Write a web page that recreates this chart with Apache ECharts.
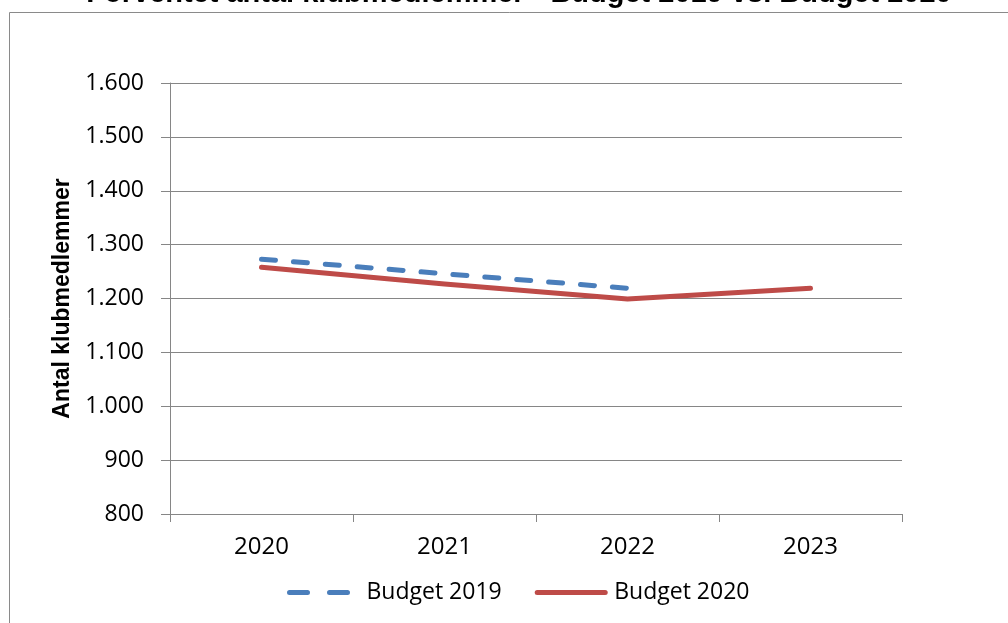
<!DOCTYPE html>
<html><head><meta charset="utf-8">
<script src="https://cdn.jsdelivr.net/npm/echarts@6/dist/echarts.min.js"></script>
<style>html,body{margin:0;padding:0;background:#fff}#c{width:1008px;height:623px}</style>
</head><body><div id="c"></div>
<script>
const categories = ['2020', '2021', '2022', '2023'];
const budget2019 = [1273, 1246, 1219, null];
const budget2020 = [1258, 1227, 1199, 1219];
const yTicks = { min: 800, max: 1600, interval: 100 };

const chart = echarts.init(document.getElementById('c'));
const fmt = v => v >= 1000 ? Math.floor(v / 1000) + '.' + String(v % 1000).padStart(3, '0') : String(v);
chart.setOption({
  animation: false,
  backgroundColor: '#fff',
  title: {
    text: 'Forventet antal klubmedlemmer - Budget 2019 vs. Budget 2020',
    left: 514, textAlign: 'center', top: -26,
    textStyle: { fontFamily: 'Liberation Sans', fontWeight: 'bold', fontSize: 29, color: '#000' }
  },
  graphic: [{
    type: 'rect', shape: { x: 9.5, y: 12.5, width: 1010, height: 620 },
    style: { fill: 'none', stroke: '#8a8a8a', lineWidth: 1 }, silent: true
  }],
  grid: { left: 170, right: 106, top: 83, bottom: 109 },
  legend: {
    bottom: 14, left: 282, itemWidth: 68, itemHeight: 12, itemGap: 33,
    textStyle: { fontFamily: 'Open Sans', fontSize: 23, color: '#000', padding: [0, 0, 0, 4] },
    data: [
      { name: 'Budget 2019', itemStyle: { opacity: 0 }, lineStyle: { width: 5, color: '#4A7EBB', type: [18, 22], cap: 'round' } },
      { name: 'Budget 2020', itemStyle: { opacity: 0 }, lineStyle: { width: 5, color: '#BE4B48', cap: 'round' } }
    ]
  },
  xAxis: {
    type: 'category', data: categories, boundaryGap: true,
    axisLine: { lineStyle: { color: '#868686', width: 1 } },
    axisTick: { show: true, length: 8, lineStyle: { color: '#868686' } },
    axisLabel: { fontFamily: 'Open Sans', fontSize: 24, color: '#000', margin: 21 }
  },
  yAxis: {
    type: 'value', min: yTicks.min, max: yTicks.max, interval: yTicks.interval,
    name: 'Antal klubmedlemmer', nameLocation: 'middle', nameGap: 96, nameRotate: 90,
    nameTextStyle: { fontFamily: 'Liberation Sans', fontWeight: 'bold', fontSize: 23, color: '#000' },
    axisLine: { show: true, lineStyle: { color: '#868686', width: 1 } },
    axisTick: { show: true, length: 9, lineStyle: { color: '#868686' } },
    splitLine: { lineStyle: { color: '#868686', width: 1 } },
    axisLabel: { fontFamily: 'Open Sans', fontSize: 23, color: '#000', margin: 26, formatter: fmt }
  },
  series: [
    {
      name: 'Budget 2019', type: 'line', data: budget2019, showSymbol: false, symbol: 'none',
      lineStyle: { color: '#4A7EBB', width: 5, type: [14, 18], cap: 'round' },
      itemStyle: { color: '#4A7EBB' }
    },
    {
      name: 'Budget 2020', type: 'line', data: budget2020, showSymbol: false, symbol: 'none',
      lineStyle: { color: '#BE4B48', width: 5, cap: 'round', join: 'round' },
      itemStyle: { color: '#BE4B48' }
    }
  ]
});
</script></body></html>
